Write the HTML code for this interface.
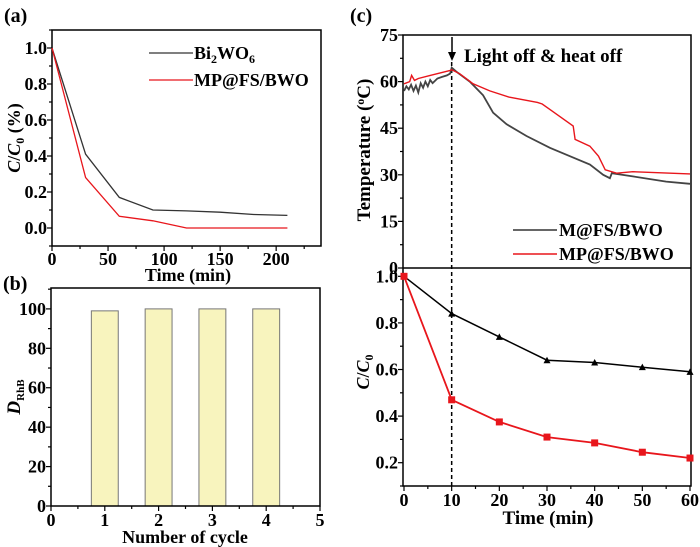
<!DOCTYPE html>
<html><head><meta charset="utf-8"><style>
html,body{margin:0;padding:0;background:#fff;width:700px;height:547px;overflow:hidden}
svg{display:block}
text{font-family:"Liberation Serif","Times New Roman",serif;font-weight:700}
</style></head><body>
<svg id="fig" width="700" height="547" viewBox="0 0 700 547" xmlns="http://www.w3.org/2000/svg"></svg>
<script>
// Panel (a) data
const aTime=[0,30,60,90,120,150,180,210];
const aBi2WO6=[1.0,0.41,0.17,0.10,0.095,0.088,0.075,0.07];
const aMPFS=[1.0,0.28,0.065,0.04,0.0,0.0,0.0,0.0];
const aXTicks=[0,50,100,150,200];
const aYTicks=[0.0,0.2,0.4,0.6,0.8,1.0];
const aYLabels=["0.0","0.2","0.4","0.6","0.8","1.0"];
// Panel (b) data
const bCycles=[1,2,3,4];
const bValues=[99,100,100,100];
const bXTicks=[0,1,2,3,4,5];
const bYTicks=[0,20,40,60,80,100];
// Panel (c) temperature data
const cTempTimeM=[0,0.5,1,1.5,2,2.5,3,3.5,4,4.5,5,5.5,6,7,8,9,9.7,10,11,13.8,16.6,18.7,21.5,25.7,30.6,34.8,39,41.8,43.2,43.6,48,55,60];
const cTempM=[57,58.5,57.5,59,57,58.7,56.5,59.5,58,60,58.5,60.5,59.5,61,61.5,62,62.6,64.5,63.2,60,55.6,50,46.3,42.5,38.7,36,33.3,30,28.9,30.5,29.5,27.8,27.1];
const cTempTimeMP=[0,1.2,1.6,2.2,3,5.5,9.7,10,11.7,14.5,18,22,28,29,31,35.5,35.9,39,40.8,42.2,44.6,48,60];
const cTempMP=[59.3,60,62,60.4,61,62,63.6,63.8,62.5,59.3,57,55,53.3,52.8,50.6,45.7,41.4,39.2,36,31.6,30.5,31,30.3];
const cTYTicks=[0,15,30,45,60,75];
// Panel (c) degradation data
const cTime=[0,10,20,30,40,50,60];
const cDegM=[1.0,0.84,0.74,0.64,0.63,0.61,0.59];
const cDegMP=[1.0,0.47,0.375,0.31,0.285,0.245,0.22];
const cXTicks=[0,10,20,30,40,50,60];
const cYTicks=[0.2,0.4,0.6,0.8,1.0];
const cYLabels=["0.2","0.4","0.6","0.8","1.0"];

const NS="http://www.w3.org/2000/svg";
const svg=document.getElementById('fig');
const FS=18;
function el(tag,attrs,parent,text){const e=document.createElementNS(NS,tag);for(const k in attrs)e.setAttribute(k,attrs[k]);if(text!==undefined)e.textContent=text;(parent||svg).appendChild(e);return e;}
function lin(d0,d1,r0,r1){return v=>r0+(v-d0)*(r1-r0)/(d1-d0);}
function path(xs,ys,sx,sy){return xs.map((x,i)=>(i?'L':'M')+sx(x).toFixed(1)+','+sy(ys[i]).toFixed(1)).join('');}

// ---------- Panel (a)
const ax=lin(0,240,52,321), ay=lin(-0.1,1.1,246,30);
const ga=el('g',{});


let t=el('text',{x:4,y:22,'font-size':20},ga,'(a)');

let r=el('rect',{x:52,y:30,width:269,height:216,fill:'none',stroke:'#000','stroke-width':1.5},ga);

for(let v=0;v<=225;v+=25){const x=ax(v);const major=v%50===0;
  let l=el('line',{x1:x,x2:x,y1:246,y2:246+(major?5:3),stroke:'#000','stroke-width':1.2},ga);
  }
aXTicks.forEach(v=>{let e=el('text',{x:ax(v),y:265,'font-size':FS,'text-anchor':'middle'},ga,String(v));
  });
for(let k=-1;k<=11;k++){const v=k/10,y=ay(v);const major=k%2===0;
  let l=el('line',{x1:52,x2:52-(major?5:3),y1:y,y2:y,stroke:'#000','stroke-width':1.2},ga);
  }
aYTicks.forEach((v,i)=>{let e=el('text',{x:47,y:ay(v)+6,'font-size':FS,'text-anchor':'end'},ga,aYLabels[i]);
  });
t=el('text',{x:188,y:281,'font-size':FS,'text-anchor':'middle'},ga,'Time (min)');

t=el('text',{transform:'translate(20,138) rotate(-90)','font-size':FS,'text-anchor':'middle'},ga);

t.innerHTML='<tspan font-style="italic">C</tspan>/<tspan font-style="italic">C</tspan><tspan font-size="12" dy="4">0</tspan><tspan dy="-4"> (%)</tspan>';
let p=el('path',{d:path(aTime,aBi2WO6,ax,ay),fill:'none',stroke:'#333','stroke-width':1.3},ga);

p=el('path',{d:path(aTime,aMPFS,ax,ay),fill:'none',stroke:'#e8161c','stroke-width':1.3},ga);

let g=el('g',{},ga);
el('line',{x1:149,x2:193,y1:53,y2:53,stroke:'#333','stroke-width':1.3},g);
t=el('text',{x:194,y:59,'font-size':FS},g);t.innerHTML='Bi<tspan font-size="12" dy="4">2</tspan><tspan dy="-4">WO</tspan><tspan font-size="12" dy="4">6</tspan>';
g=el('g',{},ga);
el('line',{x1:149,x2:193,y1:80,y2:80,stroke:'#e8161c','stroke-width':1.3},g);
el('text',{x:194,y:86,'font-size':FS},g,'MP@FS/BWO');

// ---------- Panel (b)
const bx=lin(0,5,51,320), by=lin(0,110.6,506,288);
const gb=el('g',{});

t=el('text',{x:3,y:290,'font-size':20},gb,'(b)');

bCycles.forEach((c,i)=>{let b=el('rect',{x:bx(c-0.25),y:by(bValues[i]),width:bx(c+0.25)-bx(c-0.25),height:by(0)-by(bValues[i]),fill:'#f8f4be',stroke:'#777','stroke-width':1},gb);
  });
r=el('rect',{x:51,y:288,width:269,height:218,fill:'none',stroke:'#000','stroke-width':1.5},gb);

for(let k=0;k<=10;k++){const x=bx(k/2);const major=k%2===0;
  let l=el('line',{x1:x,x2:x,y1:506,y2:506+(major?5:3),stroke:'#000','stroke-width':1.2},gb);
  }
bXTicks.forEach(v=>{let e=el('text',{x:bx(v),y:526,'font-size':FS,'text-anchor':'middle'},gb,String(v));
  });
for(let v=0;v<=110;v+=10){const y=by(v);const major=v%20===0;
  let l=el('line',{x1:51,x2:51-(major?5:3),y1:y,y2:y,stroke:'#000','stroke-width':1.2},gb);
  }
bYTicks.forEach(v=>{let e=el('text',{x:46,y:by(v)+6,'font-size':FS,'text-anchor':'end'},gb,String(v));
  });
t=el('text',{x:185,y:543,'font-size':FS,'text-anchor':'middle'},gb,'Number of cycle');

t=el('text',{transform:'translate(20,397) rotate(-90)','font-size':19,'text-anchor':'middle'},gb);

t.innerHTML='<tspan font-style="italic">D</tspan><tspan font-size="11" dy="4">RhB</tspan>';

// ---------- Panel (c)
const cx=lin(0,60,404,690), ty=lin(0,75,268,35), cy=lin(0.1,1.04,486,267);
const gc=el('g',{});

t=el('text',{x:350,y:22,'font-size':20},gc,'(c)');

r=el('rect',{x:403,y:35,width:288,height:451,fill:'none',stroke:'#000','stroke-width':1.5},gc);

let l=el('line',{x1:403,x2:691,y1:268,y2:268,stroke:'#000','stroke-width':1.5},gc);

for(let v=0;v<=75;v+=7.5){const y=ty(v);const major=v%15===0;
  let tk=el('line',{x1:403,x2:403-(major?5:3),y1:y,y2:y,stroke:'#000','stroke-width':1.2},gc);
  }
cTYTicks.forEach(v=>{let e=el('text',{x:398,y:ty(v)+6,'font-size':FS,'text-anchor':'end'},gc,String(v));
  });
for(let k=1;k<=10;k++){const v=k/10;const y=cy(v);const major=k%2===0;
  let tk=el('line',{x1:403,x2:403-(major?5:3),y1:y,y2:y,stroke:'#000','stroke-width':1.2},gc);
  }
cYTicks.forEach((v,i)=>{let e=el('text',{x:398,y:cy(v)+6,'font-size':FS,'text-anchor':'end'},gc,cYLabels[i]);
  });
for(let v=0;v<=60;v+=5){const x=cx(v);const major=v%10===0;
  let tk=el('line',{x1:x,x2:x,y1:486,y2:486+(major?5:3),stroke:'#000','stroke-width':1.2},gc);
  }
cXTicks.forEach(v=>{let e=el('text',{x:cx(v),y:506,'font-size':FS,'text-anchor':'middle'},gc,String(v));
  });
t=el('text',{x:548,y:524,'font-size':19,'text-anchor':'middle'},gc,'Time (min)');

t=el('text',{transform:'translate(370,150) rotate(-90)','font-size':19,'text-anchor':'middle'},gc);

t.innerHTML='Temperature (<tspan font-size="12" dy="-6">o</tspan><tspan dy="6">C)</tspan>';
t=el('text',{transform:'translate(369,372) rotate(-90)','font-size':FS,'text-anchor':'middle'},gc);

t.innerHTML='<tspan font-style="italic">C</tspan>/<tspan font-style="italic">C</tspan><tspan font-size="12" dy="4">0</tspan>';
l=el('line',{x1:cx(10),x2:cx(10),y1:62,y2:486,stroke:'#000','stroke-width':1.5,'stroke-dasharray':'4,3'},gc);

p=el('path',{d:path(cTempTimeM,cTempM,cx,ty),fill:'none',stroke:'#444','stroke-width':1.8},gc);

p=el('path',{d:path(cTempTimeMP,cTempMP,cx,ty),fill:'none',stroke:'#e8161c','stroke-width':1.4},gc);

g=el('g',{},gc);
el('line',{x1:452,x2:452,y1:37,y2:55,stroke:'#000','stroke-width':1.5},g);
el('path',{d:'M448,52 L456,52 L452,61 Z',fill:'#000'},g);
t=el('text',{x:464,y:62,'font-size':19},gc,'Light off & heat off');

g=el('g',{},gc);
el('line',{x1:513,x2:557,y1:230,y2:230,stroke:'#333','stroke-width':1.5},g);
el('text',{x:559,y:236,'font-size':FS},g,'M@FS/BWO');
g=el('g',{},gc);
el('line',{x1:513,x2:557,y1:254,y2:254,stroke:'#e8161c','stroke-width':1.5},g);
el('text',{x:559,y:260,'font-size':FS},g,'MP@FS/BWO');
p=el('path',{d:path(cTime,cDegM,cx,cy),fill:'none',stroke:'#000','stroke-width':1.5},gc);

cTime.forEach((x,i)=>{const X=cx(x),Y=cy(cDegM[i]);
  let m=el('path',{d:`M${X-3.5},${Y+3} L${X+3.5},${Y+3} L${X},${Y-3.5} Z`,fill:'#000'},gc);
  });
p=el('path',{d:path(cTime,cDegMP,cx,cy),fill:'none',stroke:'#e8161c','stroke-width':1.8},gc);

cTime.forEach((x,i)=>{const X=cx(x),Y=cy(cDegMP[i]);
  let m=el('rect',{x:X-3.5,y:Y-3.5,width:7,height:7,fill:'#e8161c'},gc);
  });
</script>
</body></html>
